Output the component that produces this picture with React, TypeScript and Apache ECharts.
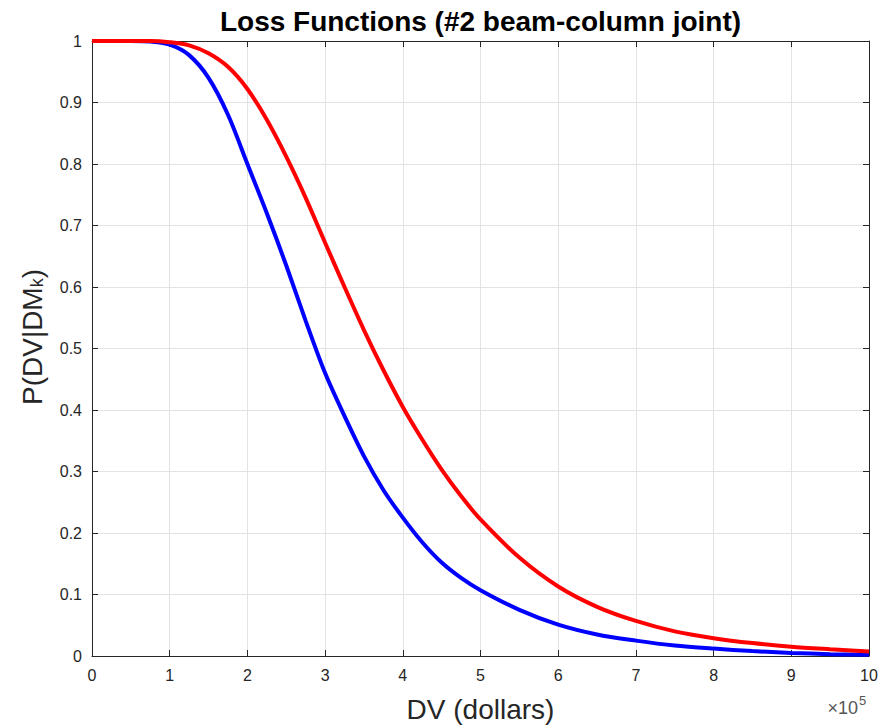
import React, { useEffect, useRef } from "react";
import * as echarts from "echarts";

const blueX = [0, 0.5, 0.75, 1.0, 1.25, 1.5, 1.75, 2.0, 2.25, 2.5, 2.75, 3.0, 3.25, 3.5, 3.75, 4.0, 4.25, 4.5, 4.75, 5.0, 5.5, 6.0, 6.5, 7.0, 7.5, 8.0, 8.5, 9.0, 9.5, 10];
const blueY = [1, 1, 0.999, 0.994, 0.977, 0.94, 0.88, 0.8, 0.72, 0.635, 0.545, 0.46, 0.39, 0.325, 0.27, 0.225, 0.185, 0.152, 0.127, 0.107, 0.075, 0.051, 0.035, 0.025, 0.017, 0.012, 0.008, 0.005, 0.003, 0.002];

const redX = [0, 0.75, 1.0, 1.25, 1.5, 1.75, 2.0, 2.25, 2.5, 2.75, 3.0, 3.25, 3.5, 3.75, 4.0, 4.25, 4.5, 4.75, 5.0, 5.5, 6.0, 6.5, 7.0, 7.5, 8.0, 8.5, 9.0, 9.5, 10];
const redY = [1, 1, 0.998, 0.993, 0.98, 0.958, 0.922, 0.872, 0.812, 0.745, 0.672, 0.6, 0.53, 0.465, 0.405, 0.352, 0.303, 0.26, 0.222, 0.16, 0.113, 0.08, 0.057, 0.04, 0.029, 0.021, 0.015, 0.011, 0.0075];

const xTicks = { min: 0, max: 10, interval: 1 };
const yTicks = { min: 0, max: 1, interval: 0.1 };

const titleText = "Loss Functions (#2 beam-column joint)";
const xLabel = "DV (dollars)";
const exponent = "5";

const FONT = "Liberation Sans, Arial, Helvetica, sans-serif";
const AX = "#262626";

export default function App() {
  const ref = useRef<HTMLDivElement>(null);
  useEffect(() => {
    if (!ref.current) return;
    const chart = echarts.init(ref.current, undefined, { renderer: "svg" });
    const blue = blueX.map((x, i) => [x, blueY[i]]);
    const red = redX.map((x, i) => [x, redY[i]]);
    const L = 92, R = 13, T = 41, B = 70;
    const W = 882;
    const cx = L + (W - L - R) / 2;
    const axisCommon = {
      axisLine: { show: true, onZero: false, lineStyle: { color: AX, width: 1 } },
      axisTick: { show: true, inside: true, length: 6, lineStyle: { color: AX } },
    };
    chart.setOption({
      animation: false,
      backgroundColor: "#ffffff",
      grid: { left: L, right: R, top: T, bottom: B, containLabel: false },
      xAxis: [
        {
          type: "value",
          ...xTicks,
          ...axisCommon,
          axisLabel: { color: AX, fontSize: 16, fontFamily: FONT, margin: 11 },
          splitLine: { show: true, lineStyle: { color: "#e3e3e3", width: 1 } },
        },
        {
          type: "value",
          position: "top",
          ...xTicks,
          ...axisCommon,
          axisLabel: { show: false },
          splitLine: { show: false },
        },
      ],
      yAxis: [
        {
          type: "value",
          ...yTicks,
          ...axisCommon,
          axisLabel: { color: AX, fontSize: 16, fontFamily: FONT, margin: 10 },
          splitLine: { show: true, lineStyle: { color: "#e3e3e3", width: 1 } },
        },
        {
          type: "value",
          position: "right",
          ...yTicks,
          ...axisCommon,
          axisLabel: { show: false },
          splitLine: { show: false },
        },
      ],
      series: [
        {
          type: "line",
          data: blue,
          smooth: 0.3,
          showSymbol: false,
          lineStyle: { color: "#0000ff", width: 4 },
          itemStyle: { color: "#0000ff" },
          clip: true,
        },
        {
          type: "line",
          data: red,
          smooth: 0.3,
          showSymbol: false,
          lineStyle: { color: "#ff0000", width: 4 },
          itemStyle: { color: "#ff0000" },
          clip: true,
        },
      ],
      graphic: [
        {
          type: "text",
          x: cx,
          y: 21,
          style: {
            text: titleText,
            fill: "#000000",
            font: `bold 28px ${FONT}`,
            align: "center",
            verticalAlign: "middle",
          },
        },
        {
          type: "text",
          x: cx,
          y: 709,
          style: {
            text: xLabel,
            fill: AX,
            font: `28px ${FONT}`,
            align: "center",
            verticalAlign: "middle",
          },
        },
        {
          type: "text",
          x: 30,
          y: 337,
          rotation: Math.PI / 2,
          style: {
            text: "{a|P(DV|DM}{s|k}{a|)}",
            fill: AX,
            align: "center",
            verticalAlign: "middle",
            rich: {
              a: { fontSize: 28, fontFamily: FONT, fill: AX, lineHeight: 32, verticalAlign: "bottom" },
              s: { fontSize: 18, fontFamily: FONT, fill: AX, lineHeight: 32, verticalAlign: "bottom", padding: [20, 0, 0, 0] },
            },
          },
        },
        {
          type: "text",
          x: 858,
          y: 708,
          style: {
            text: "×10",
            fill: "#555555",
            font: `18px ${FONT}`,
            align: "right",
            verticalAlign: "middle",
          },
        },
        {
          type: "text",
          x: 859,
          y: 700,
          style: {
            text: exponent,
            fill: "#555555",
            font: `13px ${FONT}`,
            align: "left",
            verticalAlign: "middle",
          },
        },
      ],
    });
    return () => chart.dispose();
  }, []);
  return <div ref={ref} style={{ width: 882, height: 726, position: "absolute", left: 0, top: 0 }} />;
}
